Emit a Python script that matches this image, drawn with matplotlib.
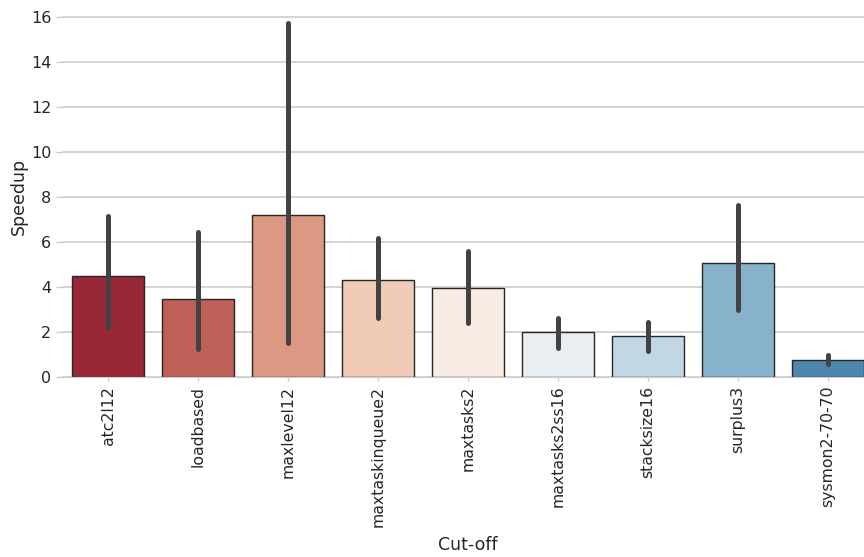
import matplotlib
matplotlib.use("Agg")
import matplotlib.pyplot as plt
import seaborn as sns
import numpy as np

categories = ["atc2l12", "loadbased", "maxlevel12", "maxtaskinqueue2", "maxtasks2",
              "maxtasks2ss16", "stacksize16", "surplus3", "sysmon2-70-70"]
speedup = [4.46, 3.47, 7.19, 4.31, 3.94, 1.97, 1.81, 5.04, 0.76]
err_low = [2.18, 1.22, 1.48, 2.59, 2.40, 1.26, 1.16, 2.96, 0.56]
err_high = [7.16, 6.42, 15.70, 6.15, 5.60, 2.59, 2.42, 7.63, 0.95]
yticks = [0, 2, 4, 6, 8, 10, 12, 14, 16]

sns.set_style("whitegrid")
plt.rcParams["font.family"] = ["DejaVu Sans"]

colors = [sns.desaturate(c, 0.75) for c in sns.color_palette("RdBu", 10)[:len(categories)]]

fig = plt.figure(figsize=(8.64, 5.57), dpi=100)
ax = fig.add_axes([63 / 864, (557 - 376.7) / 557, 810 / 864, 360 / 557])

x = np.arange(len(categories))
ax.bar(x, speedup, width=0.8, color=colors, edgecolor="#262626", linewidth=1.0, zorder=2)
lc = ax.vlines(x, err_low, err_high, color="#424242", linewidth=3.6, zorder=3)
lc.set_capstyle("round")

ax.set_xlim(-0.5, len(categories) - 0.5)
ax.set_ylim(0, 16)
ax.set_yticks(yticks)
ax.set_xticks(x)
ax.set_xticklabels(categories, rotation=90, fontsize=11.3, color="#262626")
ax.tick_params(axis="y", labelsize=11.5, labelcolor="#262626", length=5, color="#cccccc", width=1, left=True)
ax.tick_params(axis="x", length=3, color="#cccccc", width=1, bottom=True)
ax.grid(True, axis="y", color="#cccccc", linewidth=1.2, zorder=0)
ax.grid(False, axis="x")
ax.set_axisbelow(True)
for gl in ax.get_ygridlines():
    gl.set_clip_on(False)
for s in ["left", "right", "top"]:
    ax.spines[s].set_visible(False)
ax.spines["bottom"].set_color("#cccccc")
ax.set_xlabel("Cut-off", fontsize=12.5, color="#262626", labelpad=7)
ax.set_ylabel("Speedup", fontsize=12.5, color="#262626", labelpad=2)

fig.savefig("out.png", dpi=100)
